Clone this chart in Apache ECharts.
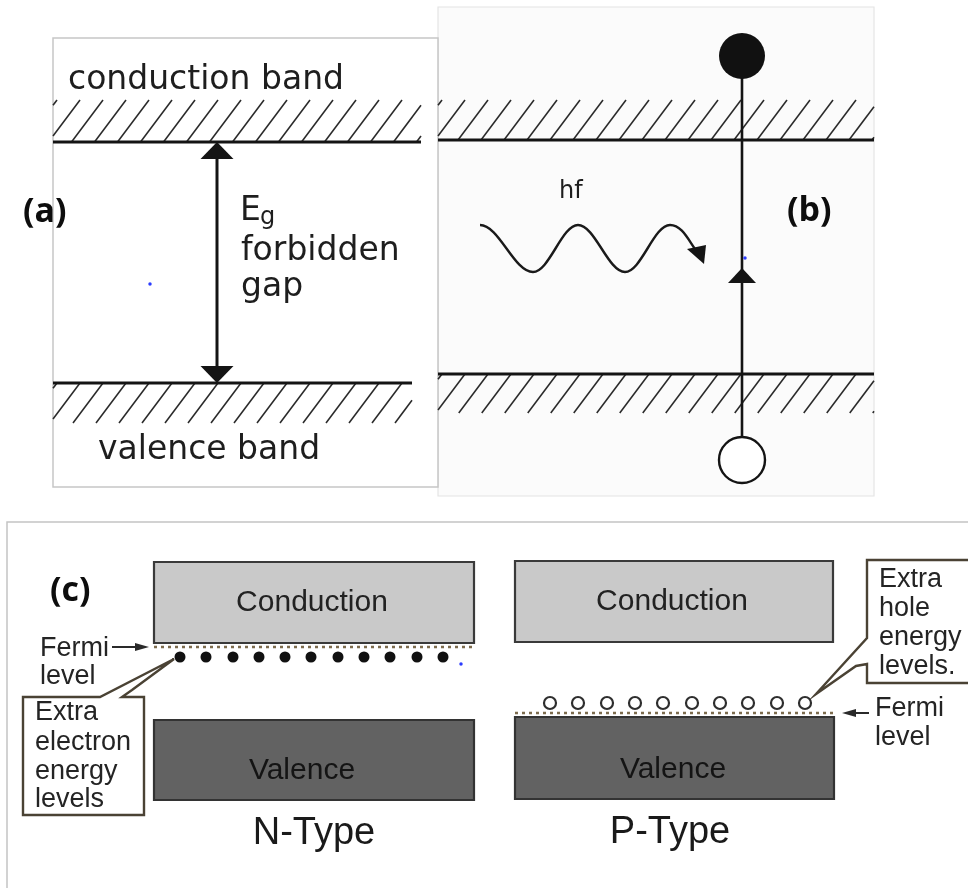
<!DOCTYPE html>
<html><head><meta charset="utf-8">
<script src="https://cdn.jsdelivr.net/npm/echarts@6/dist/echarts.min.js"></script>
<style>html,body{margin:0;padding:0;background:#fff}#c{width:968px;height:888px}</style>
</head><body><div id="c"></div>
<script>
// ===== diagram data (diagram units: 0..968 across, 0..888 down) =====
// panel frames [x1, y1, x2, y2]
const frameB = [[438, 7, 874, 496]];
const frameA = [[53, 38, 438, 487]];
const frameC = [[7, 888], [7, 522], [968, 522]];
// hatched energy bands [xStart, xEnd, yBandEdgeLine, yHatchOuter]
const hatchedBands = [[53, 421, 142, 100], [53, 412, 383, 423], [438, 874, 140, 100], [438, 874, 374, 413]];
// forbidden gap double arrow [x, yTop, yBottom]
const gapArrow = [[217, 142, 383]];
// excitation path [x, yTop, yBottom, arrowTipY]
const excitation = [[742, 78, 438, 268]];
// photon wave extrema and arrow head
const photonWave = [[480, 225], [533, 272], [578, 225], [625, 272], [670, 225], [695, 249]];
const photonHead = [[687, 249], [706, 245], [704, 264]];
// carriers
const electronB = [[742, 56]];
const holeB = [[742, 460]];
const nElectrons = [[180, 657], [206, 657], [233, 657], [259, 657], [285, 657], [311, 657], [338, 657], [364, 657], [390, 657], [417, 657], [443, 657]];
const pHoles = [[550, 703], [578, 703], [607, 703], [635, 703], [663, 703], [692, 703], [720, 703], [748, 703], [777, 703], [805, 703]];
const specks = [[150, 284], [745, 258], [461, 664]];
// N / P type band boxes [x1, y1, x2, y2]
const conductionBoxes = [[154, 562, 474, 643], [515, 561, 833, 642]];
const valenceBoxes = [[154, 720, 474, 800], [515, 717, 834, 799]];
// Fermi levels [xStart, xEnd, y]
const fermiLevels = [[154, 474, 647], [515, 834, 713]];
// Fermi pointer arrows [xTail, xTip, y]
const fermiArrows = [[112, 149, 647], [869, 842, 713]];
// callout outlines
const calloutN = [[23, 697], [100, 697], [174, 659], [132, 690], [122, 697], [144, 697], [144, 815], [23, 815]];
const calloutP = [[867, 560], [1000, 560], [1000, 683], [867, 683], [867, 664], [856, 666], [816, 694], [867, 638]];
// text labels [text, x, y]
const panelLabels = [['(a)', 23, 212], ['(b)', 787, 211], ['(c)', 50, 591]];
const bandTexts = [['conduction band', 68, 80], ['valence band', 98, 450], ['forbidden', 241, 251], ['gap', 241, 287]];
const gapSymbol = [['E', 240, 211]];
const gapSubscript = [['g', 260, 218]];
const photonText = [['hf', 559, 192]];
const conductionTexts = [['Conduction', 312, 603], ['Conduction', 672, 602]];
const valenceTexts = [['Valence', 302, 771], ['Valence', 673, 770]];
const typeTexts = [['N-Type', 314, 834], ['P-Type', 670, 833]];
const sideTexts = [['Fermi', 40, 649], ['level', 40, 677], ['Fermi', 875, 709], ['level', 875, 738],
  ['Extra', 35, 713], ['electron', 35, 743], ['energy', 35, 772], ['levels', 35, 800],
  ['Extra', 879, 580], ['hole', 879, 609], ['energy', 879, 638], ['levels.', 879, 667]];

// ===== rendering =====
const chart = echarts.init(document.getElementById('c'));

function textSeries(items, font, color, align, z) {
  return {
    type: 'custom', coordinateSystem: 'cartesian2d', silent: true, z: z || 20,
    data: items.map(t => [t[1], t[2]]),
    encode: { x: 0, y: 1 },
    renderItem: (p, api) => {
      const pt = api.coord([api.value(0), api.value(1)]);
      return {
        type: 'text', x: pt[0], y: pt[1],
        style: { text: items[p.dataIndex][0], font: font, fill: color,
          textAlign: align, textVerticalAlign: 'middle', align: align, verticalAlign: 'middle' }
      };
    }
  };
}

function rectSeries(items, fill, stroke, lw, z) {
  return {
    type: 'custom', coordinateSystem: 'cartesian2d', silent: true, z: z,
    data: items, encode: { x: [0, 2], y: [1, 3] },
    renderItem: (p, api) => {
      const a = api.coord([api.value(0), api.value(1)]);
      const b = api.coord([api.value(2), api.value(3)]);
      return { type: 'rect', shape: { x: a[0], y: a[1], width: b[0] - a[0], height: b[1] - a[1] },
        style: { fill: fill, stroke: stroke, lineWidth: lw } };
    }
  };
}

function polySeries(points, closed, fill, stroke, lw, z) {
  return {
    type: 'custom', coordinateSystem: 'cartesian2d', silent: true, z: z,
    data: points, encode: { x: 0, y: 1 },
    renderItem: (p, api) => {
      if (p.dataIndex !== 0) return null;
      const pts = points.map(q => api.coord(q));
      return { type: closed ? 'polygon' : 'polyline', shape: { points: pts },
        style: { fill: closed ? fill : null, stroke: stroke, lineWidth: lw, lineJoin: 'miter' } };
    }
  };
}

const series = [];
// frames
series.push(rectSeries(frameB, '#fbfbfb', '#e4e4e4', 1.2, 1));
series.push(rectSeries(frameA, '#ffffff', '#c6c6c6', 1.5, 1));
series.push(polySeries(frameC, false, null, '#c4c4c4', 1.5, 1));

// hatched bands
series.push({
  type: 'custom', coordinateSystem: 'cartesian2d', silent: true, z: 3,
  data: hatchedBands, encode: { x: [0, 1], y: [2, 3] },
  renderItem: (p, api) => {
    const a = api.coord([api.value(0), api.value(2)]);
    const b = api.coord([api.value(1), api.value(3)]);
    const left = a[0], right = b[0], yLine = a[1], yEdge = b[1];
    const top = Math.min(yLine, yEdge), bottom = Math.max(yLine, yEdge);
    const h = bottom - top, slant = h * 0.75, step = 23;
    const children = [];
    for (let xb = left - slant + 4; xb < right; xb += step) {
      let bx = xb, by = bottom, tx = xb + slant, ty = top;
      if (bx < left) { const t = (left - bx) / slant; bx = left; by = bottom - t * h; }
      if (tx > right) { const t = (tx - right) / slant; tx = right; ty = top + t * h; }
      if (tx <= bx + 0.5) continue;
      children.push({ type: 'line', shape: { x1: bx, y1: by, x2: tx, y2: ty }, style: { stroke: '#2a2a2a', lineWidth: 1.6 } });
    }
    children.push({ type: 'line', shape: { x1: left, y1: yLine, x2: right, y2: yLine }, style: { stroke: '#141414', lineWidth: 3 } });
    return { type: 'group', children: children };
  }
});

// gap arrow
series.push({
  type: 'custom', coordinateSystem: 'cartesian2d', silent: true, z: 5,
  data: gapArrow, encode: { x: 0, y: [1, 2] },
  renderItem: (p, api) => {
    const t = api.coord([api.value(0), api.value(1)]);
    const b = api.coord([api.value(0), api.value(2)]);
    const x = t[0], hl = 17, hw = 16.5;
    return { type: 'group', children: [
      { type: 'line', shape: { x1: x, y1: t[1] + hl - 2, x2: x, y2: b[1] - hl + 2 }, style: { stroke: '#141414', lineWidth: 3 } },
      { type: 'polygon', shape: { points: [[x, t[1]], [x - hw, t[1] + hl], [x + hw, t[1] + hl]] }, style: { fill: '#141414' } },
      { type: 'polygon', shape: { points: [[x, b[1]], [x - hw, b[1] - hl], [x + hw, b[1] - hl]] }, style: { fill: '#141414' } }
    ] };
  }
});

// excitation line with arrow
series.push({
  type: 'custom', coordinateSystem: 'cartesian2d', silent: true, z: 5,
  data: excitation, encode: { x: 0, y: [1, 2] },
  renderItem: (p, api) => {
    const t = api.coord([api.value(0), api.value(1)]);
    const b = api.coord([api.value(0), api.value(2)]);
    const tip = api.coord([api.value(0), api.value(3)]);
    const x = t[0], hl = 15, hw = 14;
    return { type: 'group', children: [
      { type: 'line', shape: { x1: x, y1: t[1], x2: x, y2: b[1] }, style: { stroke: '#141414', lineWidth: 2.6 } },
      { type: 'polygon', shape: { points: [[x, tip[1]], [x - hw, tip[1] + hl], [x + hw, tip[1] + hl]] }, style: { fill: '#141414' } }
    ] };
  }
});

// photon wave
series.push({
  type: 'custom', coordinateSystem: 'cartesian2d', silent: true, z: 5,
  data: photonWave, encode: { x: 0, y: 1 },
  renderItem: (p, api) => {
    if (p.dataIndex !== 0) return null;
    const pts = photonWave.map(q => api.coord(q));
    const children = [];
    for (let i = 1; i < pts.length; i++) {
      const a = pts[i - 1], b = pts[i], dx = b[0] - a[0], dy = b[1] - a[1];
      const last = i === pts.length - 1;
      children.push({ type: 'bezierCurve', shape: {
        x1: a[0], y1: a[1], x2: b[0], y2: b[1],
        cpx1: a[0] + dx * (last ? 0.45 : 0.36), cpy1: a[1],
        cpx2: last ? b[0] - dx * 0.3 : b[0] - dx * 0.36, cpy2: last ? b[1] - dy * 0.45 : b[1] },
        style: { stroke: '#1a1a1a', lineWidth: 2.4, fill: null } });
    }
    const hd = photonHead.map(q => api.coord(q));
    children.push({ type: 'polygon', shape: { points: hd }, style: { fill: '#141414' } });
    return { type: 'group', children: children };
  }
});

// conduction / valence boxes
series.push(rectSeries(conductionBoxes, '#c9c9c9', '#3a3a3a', 2.2, 3));
series.push(rectSeries(valenceBoxes, '#626262', '#333333', 2.2, 3));

// Fermi levels (dotted)
fermiLevels.forEach(f => {
  series.push({
    type: 'line', silent: true, z: 4, symbol: 'none', animation: false,
    data: [[f[0], f[2]], [f[1], f[2]]],
    lineStyle: { color: '#7d6c4e', width: 2.4, type: [3, 4] }
  });
});

// Fermi pointer arrows
series.push({
  type: 'custom', coordinateSystem: 'cartesian2d', silent: true, z: 5,
  data: fermiArrows, encode: { x: [0, 1], y: 2 },
  renderItem: (p, api) => {
    const a = api.coord([api.value(0), api.value(2)]);
    const b = api.coord([api.value(1), api.value(2)]);
    const dir = Math.sign(b[0] - a[0]), hl = 14, hw = 4;
    return { type: 'group', children: [
      { type: 'line', shape: { x1: a[0], y1: a[1], x2: b[0] - dir * hl, y2: b[1] }, style: { stroke: '#2a2a2a', lineWidth: 2 } },
      { type: 'polygon', shape: { points: [[b[0], b[1]], [b[0] - dir * hl, b[1] - hw], [b[0] - dir * hl, b[1] + hw]] }, style: { fill: '#2a2a2a' } }
    ] };
  }
});

// callouts
series.push(polySeries(calloutN, true, '#ffffff', '#4a4234', 2.4, 6));
series.push(polySeries(calloutP, true, '#ffffff', '#4a4234', 2.4, 6));

// carriers
series.push({ type: 'scatter', silent: true, z: 7, symbol: 'circle', symbolSize: 46, data: electronB, itemStyle: { color: '#111', opacity: 1 } });
series.push({ type: 'scatter', silent: true, z: 7, symbol: 'circle', symbolSize: 46, data: holeB, itemStyle: { color: '#fff', borderColor: '#141414', borderWidth: 2.4, opacity: 1 } });
series.push({ type: 'scatter', silent: true, z: 7, symbol: 'circle', symbolSize: 11, data: nElectrons, itemStyle: { color: '#111', opacity: 1 } });
series.push({ type: 'scatter', silent: true, z: 7, symbol: 'circle', symbolSize: 12, data: pHoles, itemStyle: { color: '#fff', borderColor: '#2e2e2e', borderWidth: 2.2, opacity: 1 } });
series.push({ type: 'scatter', silent: true, z: 7, symbol: 'circle', symbolSize: 3.5, data: specks, itemStyle: { color: '#2b3cff', opacity: 1 } });

// texts
series.push(textSeries(panelLabels, 'bold 34px "Open Sans"', '#0d0d0d', 'left'));
series.push(textSeries(bandTexts, '33px "DejaVu Sans"', '#1e1e1e', 'left'));
series.push(textSeries(gapSymbol, '33px "DejaVu Sans"', '#1e1e1e', 'left'));
series.push(textSeries(gapSubscript, '24px "DejaVu Sans"', '#1e1e1e', 'left'));
series.push(textSeries(photonText, '24px "DejaVu Sans"', '#1e1e1e', 'left'));
series.push(textSeries(conductionTexts, '30px "Liberation Sans"', '#222222', 'center'));
series.push(textSeries(valenceTexts, '30px "Liberation Sans"', '#141414', 'center'));
series.push(textSeries(typeTexts, '38px "Liberation Sans"', '#1a1a1a', 'center'));
series.push(textSeries(sideTexts, '27px "Liberation Sans"', '#242424', 'left'));

chart.setOption({
  animation: false,
  backgroundColor: '#ffffff',
  grid: { left: 0, right: 0, top: 0, bottom: 0 },
  xAxis: { type: 'value', min: 0, max: 968, show: false },
  yAxis: { type: 'value', min: 0, max: 888, inverse: true, show: false },
  series: series
});
</script></body></html>
